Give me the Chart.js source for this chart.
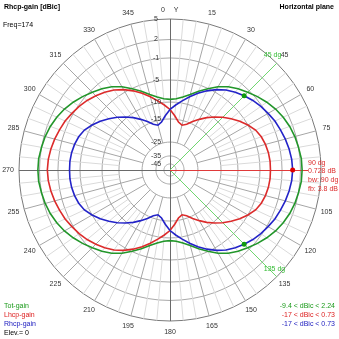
<!DOCTYPE html>
<html>
<head>
<meta charset="utf-8">
<script src="https://cdn.jsdelivr.net/npm/chart.js@4.4.1/dist/chart.umd.min.js"></script>
<style>
    body { margin: 0; background: #fff; }
    #wrap {
        position: relative; width: 339px; height: 339px;
        font-family: "Liberation Sans", Arial, sans-serif;
        font-size: 7px; line-height: 9px; color: #000;
    }
    #chart { position: absolute; left: 0; top: 0; }
    .txt { position: absolute; white-space: nowrap; }
    .right { text-align: right; }
</style>
</head>
<body>
<div id="wrap">
    <canvas id="chart" width="339" height="339"></canvas>
    <div class="txt" style="left:4px;top:2px;font-weight:bold">Rhcp-gain [dBic]</div>
    <div class="txt" style="left:3px;top:20px">Freq=174</div>
    <div class="txt" style="right:5px;top:2px;font-weight:bold">Horizontal plane</div>
    <div class="txt" style="left:4px;top:301px">
        <div style="color:#1a9a1a">Tot-gain</div>
        <div style="color:#dd2020">Lhcp-gain</div>
        <div style="color:#2020c0">Rhcp-gain</div>
        <div>Elev.= 0</div>
    </div>
    <div class="txt right" style="right:4px;top:301px">
        <div style="color:#1a9a1a">-9.4 &lt; dBic &lt; 2.24</div>
        <div style="color:#dd2020">-17 &lt; dBic &lt; 0.73</div>
        <div style="color:#2020c0">-17 &lt; dBic &lt; 0.73</div>
    </div>
</div>
<script>
// ======================
// DATA (gain in dBic, angle clockwise from Y)
// ======================
const angles = [
    0, 5, 10, 15, 20, 25, 30, 35, 40, 45, 50, 55, 60, 65, 70, 75, 80, 85,
    90, 95, 100, 105, 110, 115, 120, 125, 130, 135, 140, 145, 150, 155, 160, 165, 170, 175,
    180, 185, 190, 195, 200, 205, 210, 215, 220, 225, 230, 235, 240, 245, 250, 255, 260, 265,
    270, 275, 280, 285, 290, 295, 300, 305, 310, 315, 320, 325, 330, 335, 340, 345, 350, 355
];

const rhcpGain = [
    -12.2, -10.8, -9.5, -8.2, -6.9, -5.6, -4.5, -3.6, -2.9, -2.3, -1.7, -1.2, -0.8, -0.4, -0.1, 0.2, 0.45, 0.65,
    0.73, 0.65, 0.45, 0.2, -0.1, -0.4, -0.8, -1.2, -1.7, -2.3, -2.9, -3.6, -4.5, -5.6, -6.9, -8.2, -9.5, -10.8,
    -12.2, -14.0, -16.0, -17.0, -16.0, -14.3, -12.8, -11.2, -9.7, -8.5, -7.3, -6.1, -5.0, -4.2, -3.7, -3.4, -3.2, -3.1,
    -3.1, -3.1, -3.2, -3.4, -3.7, -4.2, -5.0, -6.1, -7.3, -8.5, -9.7, -11.2, -12.8, -14.3, -16.0, -17.0, -16.0, -14.0
];

const lhcpGain = [
    -12.2, -14.0, -16.0, -17.0, -16.0, -14.3, -12.8, -11.2, -9.7, -8.5, -7.3, -6.1, -5.0, -4.2, -3.7, -3.4, -3.2, -3.1,
    -3.1, -3.1, -3.2, -3.4, -3.7, -4.2, -5.0, -6.1, -7.3, -8.5, -9.7, -11.2, -12.8, -14.3, -16.0, -17.0, -16.0, -14.0,
    -12.2, -10.8, -9.5, -8.2, -6.9, -5.6, -4.5, -3.6, -2.9, -2.3, -1.7, -1.2, -0.8, -0.4, -0.1, 0.2, 0.45, 0.65,
    0.73, 0.65, 0.45, 0.2, -0.1, -0.4, -0.8, -1.2, -1.7, -2.3, -2.9, -3.6, -4.5, -5.6, -6.9, -8.2, -9.5, -10.8
];

const totGain = [
    -9.4, -9.2, -8.6, -7.7, -6.4, -5.1, -3.9, -2.9, -2.1, -1.4, -0.65, 0.0, 0.6, 1.1, 1.5, 1.8, 2.0, 2.2,
    2.24, 2.2, 2.0, 1.8, 1.5, 1.1, 0.6, 0.0, -0.65, -1.4, -2.1, -2.9, -3.9, -5.1, -6.4, -7.7, -8.6, -9.2,
    -9.4, -9.2, -8.6, -7.7, -6.4, -5.1, -3.9, -2.9, -2.1, -1.4, -0.65, 0.0, 0.6, 1.1, 1.5, 1.8, 2.0, 2.2,
    2.24, 2.2, 2.0, 1.8, 1.5, 1.1, 0.6, 0.0, -0.65, -1.4, -2.1, -2.9, -3.9, -5.1, -6.4, -7.7, -8.6, -9.2
];

// dB rings of the radial axis (tick labels)
const ringDb = [5, 2, -1, -5, -10, -15, -25, -35, -45];

// markers: beamwidth points and max on Rhcp trace
const markerAngles = [45, 90, 135];
const markerNotes = ["90 dg", "0.728 dB", "bw: 90 dg", "fb: 3.8 dB"];

// ======================
// LOG-LIKE RADIAL SCALE (relative radius for each ring)
// ======================
const ringPos = [1, 0.864, 0.742, 0.596, 0.450, 0.338, 0.185, 0.093, 0.04];

function toR(db) {
    if (db >= ringDb[0]) return 1;
    for (let i = 1; i < ringDb.length; i++) {
        if (db >= ringDb[i]) {
            const t = (db - ringDb[i]) / (ringDb[i - 1] - ringDb[i]);
            return ringPos[i] + t * (ringPos[i - 1] - ringPos[i]);
        }
    }
    return 0;
}

const GREEN = "#22962a";
const RED = "#dc2b2b";
const BLUE = "#2323c8";

const markerData = angles.map((a, i) => markerAngles.includes(a) ? toR(rhcpGain[i]) : null);
const markerColors = angles.map(a => a === 90 ? "#e00000" : "#0f9a0f");

// ======================
// GRID, SPOKES, LABELS
// ======================
const polarDecor = {
    id: "polarDecor",
    beforeDatasetsDraw(chart) {
        const s = chart.scales.r;
        const ctx = chart.ctx;
        const R = s.drawingArea;
        ctx.save();
        ctx.lineWidth = 1;

        // spokes every 5 deg, darker every 15 deg
        angles.forEach((a, i) => {
            if (a % 90 === 0) return;
            const major = a % 15 === 0;
            const r0 = s.getDistanceFromCenterForValue(toR(major ? -25 : -15));
            const p0 = s.getPointPosition(i, r0);
            const p1 = s.getPointPosition(i, R);
            ctx.strokeStyle = major ? "#a6a6a6" : "#dadada";
            ctx.beginPath();
            ctx.moveTo(p0.x, p0.y);
            ctx.lineTo(p1.x, p1.y);
            ctx.stroke();
        });

        // main axes
        ctx.strokeStyle = "#6a6a6a";
        ctx.beginPath();
        ctx.moveTo(s.xCenter + 0.5, s.yCenter - R);
        ctx.lineTo(s.xCenter + 0.5, s.yCenter + R);
        ctx.moveTo(s.xCenter - R, s.yCenter + 0.5);
        ctx.lineTo(s.xCenter, s.yCenter + 0.5);
        ctx.stroke();

        // marker guide lines
        ctx.strokeStyle = "#6fd66f";
        [45, 135].forEach(a => {
            const p = s.getPointPosition(angles.indexOf(a), R);
            ctx.beginPath();
            ctx.moveTo(s.xCenter, s.yCenter);
            ctx.lineTo(p.x, p.y);
            ctx.stroke();
        });
        ctx.strokeStyle = "#e03a3a";
        ctx.beginPath();
        ctx.moveTo(s.xCenter, s.yCenter + 0.5);
        ctx.lineTo(s.xCenter + R - 13, s.yCenter + 0.5);
        ctx.stroke();
        ctx.restore();
    },
    afterDraw(chart) {
        const s = chart.scales.r;
        const ctx = chart.ctx;
        const R = s.drawingArea;
        ctx.save();
        ctx.font = '7px "Liberation Sans", Arial, sans-serif';
        ctx.textBaseline = "middle";

        // ring labels
        ctx.fillStyle = "#333";
        ctx.textAlign = "center";
        ringDb.forEach(db => {
            const d = s.getDistanceFromCenterForValue(toR(db));
            ctx.fillText(String(db), s.xCenter - 14, s.yCenter - d);
        });

        // angle labels
        angles.forEach((a, i) => {
            if (a % 15 !== 0 || a === 90) return;
            if (a === 0) {
                ctx.fillText("0", s.xCenter - 7, s.yCenter - R - 9);
                ctx.fillText("Y", s.xCenter + 6, s.yCenter - R - 9);
                return;
            }
            const p = s.getPointPosition(i, R + 11);
            ctx.fillText(String(a), p.x, p.y);
        });

        // marker notes
        ctx.textAlign = "left";
        ctx.fillStyle = "#33bb33";
        [45, 135].forEach(a => {
            const p = s.getPointPosition(angles.indexOf(a), R);
            ctx.fillText(a + " dg", p.x - 13, p.y - 8);
        });
        ctx.fillStyle = RED;
        const nx = s.xCenter + R - 13;
        [-7, 1, 10, 19].forEach((dy, k) => {
            ctx.fillText(markerNotes[k], nx, s.yCenter + dy);
        });
        ctx.restore();
    }
};

// ======================
// CHART
// ======================
new Chart(document.getElementById("chart"), {
    type: "radar",
    data: {
        labels: angles,
        datasets: [
            {
                label: "markers",
                data: markerData,
                showLine: false,
                pointRadius: 2.5,
                pointBorderWidth: 0,
                pointBackgroundColor: markerColors
            },
            {
                label: "Rhcp-gain",
                data: rhcpGain.map(toR),
                borderColor: BLUE,
                borderWidth: 1.6,
                pointRadius: 0,
                fill: false
            },
            {
                label: "Lhcp-gain",
                data: lhcpGain.map(toR),
                borderColor: RED,
                borderWidth: 1.6,
                pointRadius: 0,
                fill: false
            },
            {
                label: "Tot-gain",
                data: totGain.map(toR),
                borderColor: GREEN,
                borderWidth: 1.6,
                pointRadius: 0,
                fill: false
            }
        ]
    },
    options: {
        responsive: false,
        animation: false,
        layout: { padding: { left: 19, top: 19, right: 18, bottom: 18 } },
        plugins: {
            legend: { display: false },
            tooltip: { enabled: false }
        },
        elements: { line: { tension: 0 } },
        scales: {
            r: {
                min: 0,
                max: 1,
                angleLines: { display: false },
                pointLabels: { display: false },
                ticks: { display: false },
                afterBuildTicks: scale => {
                    scale.ticks = [0].concat(ringPos.slice().reverse()).map(v => ({ value: v }));
                },
                grid: {
                    lineWidth: 1,
                    color: ctx => (ctx.tick && ctx.tick.value === 1) ? "#7a7a7a" : "#a8a8a8"
                }
            }
        }
    },
    plugins: [polarDecor]
});
</script>
</body>
</html>
